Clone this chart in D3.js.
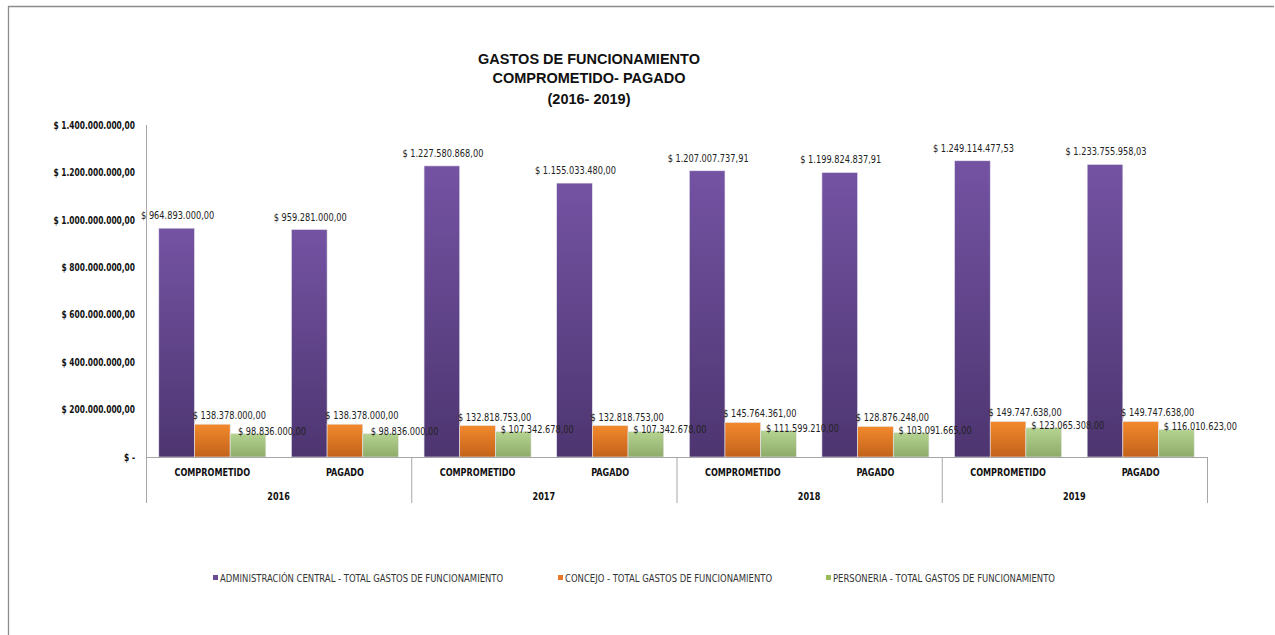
<!DOCTYPE html>
<html>
<head>
<meta charset="utf-8">
<script src="https://cdn.jsdelivr.net/npm/d3@7/dist/d3.min.js"></script>
<style>
  html, body { margin: 0; padding: 0; background: #fff; }
  svg { display: block; }
  .narrow { font-family: "Liberation Sans Narrow", "Arial Narrow", "DejaVu Sans Condensed", "Liberation Sans", sans-serif; }
</style>
</head>
<body>
<script>
// Gastos de funcionamiento, comprometido vs pagado, 2016-2019
const years = ["2016", "2017", "2018", "2019"];
const stages = ["COMPROMETIDO", "PAGADO"];
const seriesNames = [
  "ADMINISTRACIÓN CENTRAL - TOTAL GASTOS DE FUNCIONAMIENTO",
  "CONCEJO - TOTAL GASTOS DE FUNCIONAMIENTO",
  "PERSONERIA - TOTAL GASTOS DE FUNCIONAMIENTO"
];
// one value per (year, stage), in order 2016C, 2016P, 2017C, ...
const administracion = [964893000.00, 959281000.00, 1227580868.00, 1155033480.00,
                        1207007737.91, 1199824837.91, 1249114477.53, 1233755958.03];
const concejo = [138378000.00, 138378000.00, 132818753.00, 132818753.00,
                 145764361.00, 128876248.00, 149747638.00, 149747638.00];
const personeria = [98836000.00, 98836000.00, 107342678.00, 107342678.00,
                    111599210.00, 103091665.00, 123065308.00, 116010623.00];
const yTicks = [0, 200000000, 400000000, 600000000, 800000000, 1000000000, 1200000000, 1400000000];

const W = 1275, H = 635;
const plot = { left: 146, right: 1207, top: 125, bottom: 457 };

const svg = d3.select("body").append("svg").attr("width", W).attr("height", H);

// squeeze text horizontally to mimic a condensed face
function condense(sel, factor) {
  sel.each(function () {
    const len = this.getComputedTextLength();
    d3.select(this).attr("textLength", len * factor).attr("lengthAdjust", "spacingAndGlyphs");
  });
}

// frame lines
svg.append("line").attr("x1", 8.5).attr("x2", 8.5).attr("y1", 6).attr("y2", H)
  .attr("stroke", "#8c8c8c").attr("stroke-width", 1.3);
svg.append("line").attr("x1", 8).attr("x2", 1274).attr("y1", 6.5).attr("y2", 6.5)
  .attr("stroke", "#8c8c8c").attr("stroke-width", 1.3);

// title
const title = svg.append("text").attr("text-anchor", "middle")
  .attr("font-family", "Liberation Sans, Arial, sans-serif")
  .attr("font-weight", "bold").attr("font-size", 14.5).attr("fill", "#111");
["GASTOS  DE FUNCIONAMIENTO", "COMPROMETIDO- PAGADO", "(2016- 2019)"].forEach((t, i) => {
  title.append("tspan").attr("x", 589).attr("y", [64, 83, 104][i]).text(t);
});

// gradients
const defs = svg.append("defs");
const grads = [
  ["#7453a3", "#4d3570"],
  ["#f3892c", "#c2621b"],
  ["#b6d491", "#8eab69"]
];
grads.forEach((g, i) => {
  const lg = defs.append("linearGradient").attr("id", "g" + i)
    .attr("x1", 0).attr("x2", 0).attr("y1", 0).attr("y2", 1);
  lg.append("stop").attr("offset", "0%").attr("stop-color", g[0]);
  lg.append("stop").attr("offset", "100%").attr("stop-color", g[1]);
});
const legendColors = ["#6a4c93", "#e8762b", "#9bbb59"];

// scales
const cats = [];
years.forEach(y => stages.forEach(s => cats.push(y + "|" + s)));
const x0 = d3.scaleBand().domain(cats).range([plot.left, plot.right]).paddingInner(0.193).paddingOuter(0.0965);
const x1 = d3.scaleBand().domain([0, 1, 2]).range([0, x0.bandwidth()]);
const y = d3.scaleLinear().domain([0, 1400000000]).range([plot.bottom, plot.top]);

const fmt = v => {
  const s = d3.format(",.2f")(v);
  return "$ " + s.replace(/,/g, "#").replace(".", ",").replace(/#/g, ".");
};
const tickFmt = v => v === 0 ? "$ -" : fmt(v);

// y axis
const yAxis = d3.axisLeft(y).tickValues(yTicks).tickSize(0).tickFormat(tickFmt);
const ya = svg.append("g").attr("transform", `translate(${plot.left},0)`).call(yAxis);
ya.select(".domain").remove();
ya.selectAll("text").attr("class", "narrow").attr("x", -11)
  .attr("font-size", 10).attr("font-weight", "bold").attr("fill", "#111")
  .call(condense, 0.83);
svg.append("line").attr("x1", plot.left + 0.5).attr("x2", plot.left + 0.5)
  .attr("y1", plot.top).attr("y2", 503).attr("stroke", "#a6a6a6");

// bars
const allSeries = [administracion, concejo, personeria];
const labelNudge = [{ dx: 1, dy: -9 }, { dx: 17, dy: -5 }, { dx: 24, dy: 1 }];
allSeries.forEach((vals, si) => {
  const g = svg.append("g");
  g.selectAll("rect").data(vals).join("rect")
    .attr("x", (d, i) => x0(cats[i]) + x1(si))
    .attr("width", x1.bandwidth())
    .attr("y", d => y(d))
    .attr("height", d => y(0) - y(d))
    .attr("fill", `url(#g${si})`)
    .attr("stroke", "#e6e6ee").attr("stroke-width", 0.6);
});
allSeries.forEach((vals, si) => {
  svg.append("g").selectAll("text").data(vals).join("text")
    .attr("class", "narrow")
    .attr("x", (d, i) => x0(cats[i]) + x1(si) + x1.bandwidth() / 2 + labelNudge[si].dx)
    .attr("y", d => y(d) + labelNudge[si].dy)
    .attr("text-anchor", "middle").attr("font-size", 11).attr("fill", "#222")
    .text(d => fmt(d))
    .call(condense, 0.83);
});

// category axis
svg.append("line").attr("x1", plot.left).attr("x2", plot.right)
  .attr("y1", plot.bottom + 0.5).attr("y2", plot.bottom + 0.5).attr("stroke", "#a6a6a6");
const xYear = d3.scaleBand().domain(years).range([plot.left, plot.right]);
years.forEach(yr => {
  svg.append("line").attr("x1", xYear(yr) + xYear.bandwidth() + 0.5).attr("x2", xYear(yr) + xYear.bandwidth() + 0.5)
    .attr("y1", plot.bottom).attr("y2", 503).attr("stroke", "#a6a6a6");
  svg.append("text").attr("class", "narrow")
    .attr("x", xYear(yr) + xYear.bandwidth() / 2).attr("y", 500)
    .attr("text-anchor", "middle").attr("font-size", 10).attr("font-weight", "bold").attr("fill", "#111")
    .text(yr).call(condense, 0.9);
});
cats.forEach(c => {
  svg.append("text").attr("class", "narrow")
    .attr("x", x0(c) + x0.bandwidth() / 2).attr("y", 476)
    .attr("text-anchor", "middle").attr("font-size", 10).attr("font-weight", "bold").attr("fill", "#111")
    .text(c.split("|")[1]).call(condense, 0.9);
});

// legend
const legendX = [213, 558, 826];
seriesNames.forEach((n, i) => {
  svg.append("rect").attr("x", legendX[i]).attr("y", 575).attr("width", 5).attr("height", 5)
    .attr("fill", legendColors[i]);
  svg.append("text").attr("class", "narrow")
    .attr("x", legendX[i] + 7).attr("y", 581.5)
    .attr("font-size", 10).attr("fill", "#333").text(n).call(condense, 0.94);
});
</script>
</body>
</html>
